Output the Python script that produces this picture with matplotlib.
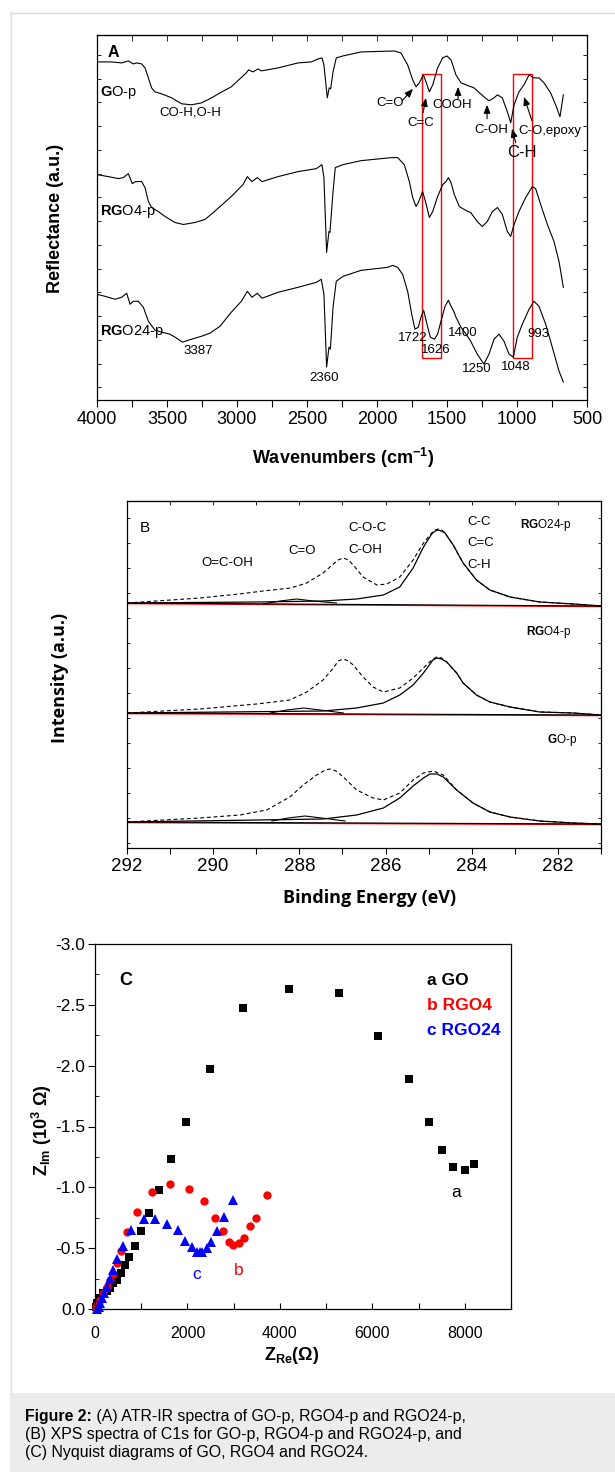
import numpy as np
import matplotlib
matplotlib.use('Agg')
import matplotlib.pyplot as plt
from matplotlib.patches import Rectangle
from matplotlib.lines import Line2D
from matplotlib.ticker import MultipleLocator, FixedLocator, FormatStrFormatter, NullFormatter

plt.rcParams['font.family'] = ['Liberation Sans', 'DejaVu Sans']
plt.rcParams['axes.unicode_minus'] = False
plt.rcParams['mathtext.fontset'] = 'custom'
plt.rcParams['mathtext.rm'] = 'Liberation Sans'
plt.rcParams['mathtext.bf'] = 'Liberation Sans:bold'
plt.rcParams['mathtext.it'] = 'Liberation Sans:italic'
plt.rcParams['mathtext.default'] = 'regular'

# ---------------- Panel A data (ATR-IR) ----------------
go_p_wn = [4000, 3895, 3824, 3776, 3740, 3717, 3681, 3657, 3633, 3610, 3586, 3538, 3467, 3395, 3324, 3252,
           3181, 3121, 3041, 2934, 2917, 2886, 2850, 2826, 2707, 2564, 2469, 2421, 2393, 2379, 2355, 2341,
           2331, 2314, 2291, 2243, 2114, 1876, 1829, 1781, 1745, 1721, 1698, 1669, 1650, 1626, 1602, 1567,
           1531, 1500, 1471, 1436, 1400, 1364, 1307, 1236, 1200, 1164, 1140, 1105, 1069, 1045, 1021, 986,
           950, 914, 879, 843, 807, 760, 724, 693, 669]
go_p_r = [339, 339, 338, 340, 337, 338, 337, 333, 323, 313, 309, 307, 303, 297, 296, 298,
          303, 308, 314, 328, 331, 329, 332, 330, 333, 338, 339, 342, 343, 336, 303, 313,
          312, 329, 343, 345, 349, 350, 348, 336, 321, 314, 318, 326, 319, 309, 316, 333,
          343, 345, 341, 326, 318, 316, 313, 304, 300, 303, 306, 303, 289, 278, 296, 309,
          316, 326, 323, 323, 318, 308, 296, 284, 306]

rgo4_p_wn = [4000, 3919, 3848, 3812, 3776, 3748, 3724, 3681, 3657, 3633, 3610, 3562, 3514, 3443, 3383, 3300,
             3229, 3169, 3121, 3041, 2957, 2926, 2893, 2855, 2821, 2707, 2564, 2433, 2393, 2379, 2360, 2343,
             2336, 2314, 2298, 2243, 2114, 1900, 1852, 1805, 1769, 1745, 1721, 1705, 1674, 1650, 1626, 1602,
             1567, 1531, 1507, 1490, 1471, 1448, 1412, 1364, 1331, 1284, 1248, 1212, 1176, 1140, 1105, 1069,
             1045, 1021, 986, 938, 890, 867, 831, 783, 736, 700, 669]
rgo4_p_r = [226, 224, 222, 223, 227, 217, 219, 219, 213, 199, 193, 189, 184, 178, 176, 178,
            181, 188, 194, 204, 216, 224, 219, 223, 219, 224, 229, 232, 236, 223, 148, 169,
            168, 209, 233, 236, 240, 243, 243, 236, 219, 203, 194, 198, 209, 197, 183, 189,
            204, 216, 219, 223, 218, 206, 194, 190, 188, 179, 174, 179, 189, 193, 186, 169,
            164, 176, 189, 203, 214, 212, 196, 176, 159, 139, 113]

rgo24_p_wn = [4000, 3943, 3871, 3824, 3788, 3764, 3740, 3705, 3669, 3633, 3586, 3538, 3479, 3431, 3390, 3324,
              3252, 3193, 3121, 3041, 2969, 2926, 2893, 2855, 2821, 2707, 2564, 2433, 2398, 2379, 2360, 2343,
              2333, 2314, 2291, 2243, 2114, 1924, 1888, 1852, 1817, 1781, 1752, 1729, 1705, 1686, 1667, 1643,
              1619, 1590, 1567, 1543, 1514, 1490, 1471, 1452, 1436, 1400, 1364, 1331, 1284, 1236, 1200, 1164,
              1129, 1093, 1057, 1026, 998, 962, 914, 879, 843, 795, 748, 700, 669]
rgo24_p_r = [106, 104, 101, 103, 107, 96, 99, 99, 93, 79, 70, 68, 66, 62, 58, 61,
             64, 67, 74, 88, 99, 109, 103, 107, 102, 108, 113, 118, 121, 106, 33, 53,
             51, 93, 119, 124, 130, 133, 135, 133, 126, 109, 86, 71, 73, 83, 90, 76,
             63, 61, 66, 79, 94, 100, 94, 89, 83, 73, 66, 59, 46, 36, 46, 61,
             66, 59, 46, 43, 63, 76, 91, 99, 94, 76, 53, 29, 18]

# highlighted bands (wavenumber ranges) and peak labels
band_ranges = [(1676, 1543), (1026, 895)]
peak_labels = ['3387', '2360', '1722', '1626', '1400', '1250', '1048', '993']

# ---------------- Panel B data (XPS C1s) ----------------
top_env_e = [292, 290.3, 289.4, 288.84, 288.2, 287.83, 287.45, 287.21, 287.1, 286.98, 286.86, 286.75, 286.52,
             286.2, 285.97, 285.67, 285.36, 285.12, 284.93, 284.85, 284.78, 284.7, 284.62, 284.43, 284.2,
             283.89, 283.58, 283.11, 282.42, 281.64, 281.0]
top_env = [245, 250, 254, 257, 260, 265, 275, 284, 288, 290, 288, 283, 271,
           263, 264, 271, 288, 305, 315, 318, 319, 318, 315, 303, 285,
           268, 258, 251, 246, 244, 242]
top_cc_e = [292, 288.99, 287.45, 286.67, 286.05, 285.67, 285.36, 285.12, 284.93, 284.85, 284.78, 284.7,
            284.62, 284.43, 284.2, 283.89, 283.58, 283.11, 282.42, 281.64, 281.0]
top_cc = [245, 246, 247, 249, 253, 261, 280, 301, 314, 317, 318, 317, 315, 303, 285, 268, 258, 251, 246, 244, 242]
top_co_e = [288.84, 288.45, 288.06, 287.68, 287.14]
top_co = [244, 247, 249, 247, 245]
top_base = [245, 242]

mid_env_e = [292, 290.31, 288.99, 288.22, 287.83, 287.45, 287.21, 287.1, 286.98, 286.86, 286.75, 286.52,
             286.29, 286.05, 285.67, 285.36, 285.05, 284.9, 284.81, 284.7, 284.58, 284.35, 284.2, 283.89,
             283.58, 283.11, 282.42, 281.64, 281.0]
mid_env = [135, 139, 144, 148, 156, 168, 180, 187, 189, 187, 183, 171,
           161, 156, 160, 170, 183, 189, 191, 190, 186, 175, 165, 153,
           146, 141, 136, 135, 133]
mid_cc_e = [292, 287.45, 286.67, 286.05, 285.67, 285.36, 285.12, 284.9, 284.81, 284.7, 284.58, 284.35, 284.2,
            283.89, 283.58, 283.11, 282.42, 281.64, 281.0]
mid_cc = [135, 137, 140, 145, 153, 163, 175, 188, 190, 189, 186, 175, 165, 153, 146, 141, 136, 135, 133]
mid_co_e = [288.68, 288.29, 287.9, 287.52, 286.98]
mid_co = [135, 138, 140, 138, 135]
mid_base = [135, 133]

bot_env_e = [292, 290.31, 289.38, 288.76, 288.22, 287.91, 287.6, 287.4, 287.29, 287.15, 286.98, 286.67,
             286.29, 286.05, 285.67, 285.36, 285.12, 284.89, 284.66, 284.35, 283.97, 283.58, 283.11, 282.42,
             281.64, 281.0]
bot_env = [26, 30, 33, 38, 51, 63, 73, 78, 79, 77, 71, 58,
           50, 48, 55, 68, 75, 77, 73, 58, 45, 36, 31, 27,
           25, 24]
bot_cc_e = [292, 287.45, 286.67, 286.05, 285.67, 285.36, 285.12, 284.97, 284.81, 284.66, 284.35, 283.97,
            283.58, 283.11, 282.42, 281.64, 281.0]
bot_cc = [26, 29, 33, 40, 50, 62, 70, 74, 74, 71, 58, 45, 36, 31, 27, 25, 24]
bot_co_e = [288.64, 288.26, 287.87, 287.48, 286.94]
bot_co = [27, 30, 32, 30, 27]
bot_base = [26, 24]

# ---------------- Panel C data (Nyquist) ----------------
go_zre = [8200, 8000, 7750, 7500, 7225, 6783, 6123, 5275, 4203, 3210, 2478, 1971, 1645, 1391, 1167, 993,
          862, 746, 659, 565, 471, 400, 326, 250, 181, 109, 51, 20]
go_zim = [-1.19, -1.14, -1.17, -1.31, -1.54, -1.89, -2.24, -2.60, -2.63, -2.47, -1.97, -1.54, -1.23, -0.98,
          -0.79, -0.64, -0.52, -0.43, -0.36, -0.30, -0.24, -0.21, -0.17, -0.15, -0.13, -0.09, -0.05, -0.02]
rgo4_zre = [3717, 3486, 3355, 3225, 3109, 2993, 2891, 2775, 2601, 2355, 2029, 1623, 1225, 906, 696, 558,
            471, 398, 326, 254, 181, 109, 51, 14]
rgo4_zim = [-0.94, -0.75, -0.68, -0.58, -0.54, -0.53, -0.55, -0.64, -0.75, -0.89, -0.99, -1.03, -0.96, -0.80,
            -0.63, -0.48, -0.38, -0.29, -0.24, -0.18, -0.13, -0.07, -0.03, -0.01]
rgo24_zre = [2986, 2790, 2645, 2515, 2413, 2319, 2261, 2196, 2101, 1942, 1797, 1558, 1304, 1051, 775, 601,
             471, 398, 326, 254, 196, 145, 109, 80, 51]
rgo24_zim = [-0.90, -0.76, -0.64, -0.55, -0.50, -0.47, -0.47, -0.47, -0.51, -0.56, -0.65, -0.70, -0.74, -0.74,
             -0.65, -0.52, -0.41, -0.32, -0.25, -0.18, -0.13, -0.09, -0.05, -0.02, 0.0]
legend_labels = ['a GO', 'b RGO4', 'c RGO24']
legend_colors = ['black', '#ff0000', '#0000ff']

# sample labels (bold parts marked with mathtext)
lab_go = r'$\mathbf{G}$O-p'
lab_rgo4 = r'$\mathbf{RG}$O4-p'
lab_rgo24 = r'$\mathbf{RG}$O24-p'

# =====================================================
W, H = 615, 1479
fig = plt.figure(figsize=(W / 100, H / 100), dpi=100)
renderer = fig.canvas.get_renderer()


def rect(l, t, r, b):
    return [l / W, 1 - b / H, (r - l) / W, (b - t) / H]


bg = fig.add_axes([0, 0, 1, 1])
bg.set_xlim(0, W)
bg.set_ylim(H, 0)
bg.axis('off')
bg.add_patch(Rectangle((10, 1393), W - 10, 79, facecolor='#ececec', edgecolor='none'))
bg.add_line(Line2D([10.5, 10.5], [12, 1393], color='#dcdcdc', lw=1))
bg.add_line(Line2D([10, W], [12.5, 12.5], color='#dcdcdc', lw=1))

# ---------------- Panel A ----------------
axA = fig.add_axes(rect(97, 35, 587, 400))
for wn, r in [(go_p_wn, go_p_r), (rgo4_p_wn, rgo4_p_r), (rgo24_p_wn, rgo24_p_r)]:
    axA.plot(wn, r, color='black', lw=0.8)
axA.set_xlim(4000, 500)
axA.set_ylim(0, 366)
for x0, x1 in band_ranges:
    axA.add_patch(Rectangle((x1, 42.5), x0 - x1, 284.5, fill=False, edgecolor='#ff0000', lw=1.0))
axA.xaxis.set_major_locator(MultipleLocator(500))
axA.xaxis.set_minor_locator(MultipleLocator(250))
axA.tick_params(axis='x', which='both', direction='out', length=5, width=0.8, labelsize=13, pad=3)
axA.yaxis.set_major_locator(FixedLocator(np.arange(346, 0, -23.8)))
axA.yaxis.set_major_formatter(NullFormatter())
axA.tick_params(axis='y', which='both', direction='in', length=3, width=0.6, left=True, right=True)
secA = axA.secondary_xaxis('top')
secA.xaxis.set_major_locator(MultipleLocator(250))
secA.tick_params(axis='x', direction='in', length=4, width=0.6, labeltop=False)
for sp in axA.spines.values():
    sp.set_linewidth(0.9)

axA.text(3921, 348, 'A', fontsize=11.5, fontweight='bold', ha='left', va='center')
for lab, yv in [(lab_go, 308), (lab_rgo4, 189), (lab_rgo24, 69)]:
    axA.text(3979, yv, lab, fontsize=10.5, ha='left', va='center')

ann_fs = 9.5
axA.text(3336, 288, 'CO-H,O-H', fontsize=ann_fs, ha='center', va='center')
axA.text(1907, 298, 'C=O', fontsize=ann_fs, ha='center', va='center')
axA.text(1686, 278, 'C=C', fontsize=ann_fs, ha='center', va='center')
axA.text(1464, 296, 'COOH', fontsize=ann_fs, ha='center', va='center')
axA.text(1186, 271, 'C-OH', fontsize=ann_fs, ha='center', va='center')
axA.text(964, 248, 'C-H', fontsize=12, ha='center', va='center')
axA.text(764, 270, 'C-O,epoxy', fontsize=ann_fs, ha='center', va='center')
arrow_kw = dict(arrowstyle='-|>,head_length=0.5,head_width=0.2', color='black', lw=0.8, shrinkA=0, shrinkB=0)
for (xs, ys, xe, ye) in [(1821, 300, 1743, 312), (1671, 288, 1650, 303), (1421, 302, 1421, 314),
                         (1214, 282, 1214, 296), (1009, 258, 1036, 272), (893, 280, 950, 304)]:
    axA.annotate('', xy=(xe, ye), xytext=(xs, ys), arrowprops=arrow_kw)

peak_pos = [(3279, 49), (2379, 22), (1743, 62), (1579, 50), (1386, 67), (1286, 31), (1007, 33), (850, 66)]
for lab, (px, py) in zip(peak_labels, peak_pos):
    axA.text(px, py, lab, fontsize=ann_fs, ha='center', va='center')

bg.text(343, 458, 'Wavenumbers (cm$^{-1}$)', fontsize=13, fontweight='bold', ha='center', va='center')
bg.text(56, 218, 'Reflectance (a.u.)', fontsize=13, fontweight='bold', ha='center', va='center',
        rotation=90)

# ---------------- Panel B ----------------
axB = fig.add_axes(rect(127, 501, 601, 848))
for e_env, env, e_cc, cc, e_co, co, base in [
        (top_env_e, top_env, top_cc_e, top_cc, top_co_e, top_co, top_base),
        (mid_env_e, mid_env, mid_cc_e, mid_cc, mid_co_e, mid_co, mid_base),
        (bot_env_e, bot_env, bot_cc_e, bot_cc, bot_co_e, bot_co, bot_base)]:
    axB.plot([292, 281], [b - 0.6 for b in base], color='#ff0000', lw=1.0)
    axB.plot([292, 281], base, color='black', lw=0.8)
    axB.plot(e_co, co, color='black', lw=0.8)
    axB.plot(e_cc, cc, color='black', lw=0.9)
    axB.plot(e_env, env, color='black', lw=0.8, dashes=(3.5, 2.5))
axB.set_xlim(292, 281)
axB.set_ylim(0, 347)
axB.xaxis.set_major_locator(MultipleLocator(2))
axB.xaxis.set_minor_locator(MultipleLocator(1))
axB.tick_params(axis='x', which='both', direction='out', length=4.5, width=0.8, labelsize=13.5, pad=3)
axB.yaxis.set_major_locator(FixedLocator(np.arange(330, 0, -25)))
axB.yaxis.set_major_formatter(NullFormatter())
axB.tick_params(axis='y', which='both', direction='in', length=2.5, width=0.6, left=True, right=True)
secB = axB.secondary_xaxis('top')
secB.xaxis.set_major_locator(MultipleLocator(1))
secB.tick_params(axis='x', direction='in', length=3, width=0.6, labeltop=False)
for sp in axB.spines.values():
    sp.set_linewidth(0.9)

axB.text(291.7, 320, 'B', fontsize=11, ha='left', va='center')
axB.text(289.68, 285, 'O=C-OH', fontsize=ann_fs, ha='center', va='center')
axB.text(287.94, 297, 'C=O', fontsize=ann_fs, ha='center', va='center')
axB.text(286.87, 320, 'C-O-C', fontsize=ann_fs, ha='left', va='center')
axB.text(286.87, 298, 'C-OH', fontsize=ann_fs, ha='left', va='center')
axB.text(284.09, 326, 'C-C', fontsize=ann_fs, ha='left', va='center')
axB.text(284.09, 305, 'C=C', fontsize=ann_fs, ha='left', va='center')
axB.text(284.09, 283, 'C-H', fontsize=ann_fs, ha='left', va='center')
for lab, xv, yv in [(lab_rgo24, 282.88, 323), (lab_rgo4, 282.74, 216), (lab_go, 282.26, 108)]:
    axB.text(xv, yv, lab, fontsize=8.5, ha='left', va='center')

bg.text(370, 898, 'Binding Energy (eV)', fontsize=13, fontweight='bold', family='Open Sans',
        ha='center', va='center')
bg.text(60, 678, 'Intensity (a.u.)', fontsize=13, fontweight='bold', family='Open Sans',
        ha='center', va='center', rotation=90)

# ---------------- Panel C ----------------
axC = fig.add_axes(rect(95, 944, 511, 1309))
axC.plot(go_zre, go_zim, 's', color='black', ms=5.5, mew=0, clip_on=False)
axC.plot(rgo4_zre, rgo4_zim, 'o', color='#ff0000', ms=6, mew=0, clip_on=False)
axC.plot(rgo24_zre, rgo24_zim, '^', color='#0000ff', ms=6.5, mew=0, clip_on=False)
axC.set_xlim(0, 9000)
axC.set_ylim(0, -3.0)
axC.xaxis.set_major_locator(MultipleLocator(2000))
axC.xaxis.set_minor_locator(MultipleLocator(1000))
axC.yaxis.set_major_locator(MultipleLocator(0.5))
axC.yaxis.set_minor_locator(MultipleLocator(0.25))
axC.yaxis.set_major_formatter(FormatStrFormatter('%.1f'))
axC.tick_params(axis='x', which='both', direction='in', length=4, width=0.8, labelsize=11.5, pad=12)
axC.tick_params(axis='y', which='major', direction='out', length=5, width=0.8, labelsize=12.5, pad=2)
axC.tick_params(axis='y', which='minor', direction='in', length=3, width=0.6)
for sp in axC.spines.values():
    sp.set_linewidth(0.9)

axC.text(674, -2.70, 'C', fontsize=13, fontweight='bold', ha='center', va='center')
for i, (lab, col) in enumerate(zip(legend_labels, legend_colors)):
    axC.text(7174, -2.70 + 0.205 * i, lab, fontsize=12.5, fontweight='bold', color=col, ha='left', va='center')
axC.text(7804, -0.96, 'a', fontsize=12.5, color='black', ha='center', va='center')
axC.text(3109, -0.32, 'b', fontsize=12.5, color='#ff0000', ha='center', va='center')
axC.text(2196, -0.28, 'c', fontsize=12.5, color='#0000ff', ha='center', va='center')

bg.text(42, 1130, r'$\mathbf{Z_{Im}}$ $\mathbf{(10^3\ \Omega)}$', fontsize=13, ha='center', va='center',
        rotation=90)
bg.text(292, 1356, r'$\mathbf{Z_{Re}(\Omega)}$', fontsize=13, ha='center', va='center')

# ---------------- Caption ----------------
cap_fs = 11.4
t_bold = bg.text(25, 1417, 'Figure 2:', fontsize=cap_fs, fontweight='bold', ha='left', va='baseline')
bb = t_bold.get_window_extent(renderer)
x_next = bg.transData.inverted().transform((bb.x1, 0))[0]
t_bold.set_va('center')
bg.text(x_next, 1417, ' (A) ATR-IR spectra of GO-p, RGO4-p and RGO24-p,', fontsize=cap_fs, ha='left', va='center')
bg.text(25, 1435, '(B) XPS spectra of C1s for GO-p, RGO4-p and RGO24-p, and', fontsize=cap_fs, ha='left', va='center')
bg.text(25, 1453, '(C) Nyquist diagrams of GO, RGO4 and RGO24.', fontsize=cap_fs, ha='left', va='center')

fig.savefig('out.png', dpi=100)
